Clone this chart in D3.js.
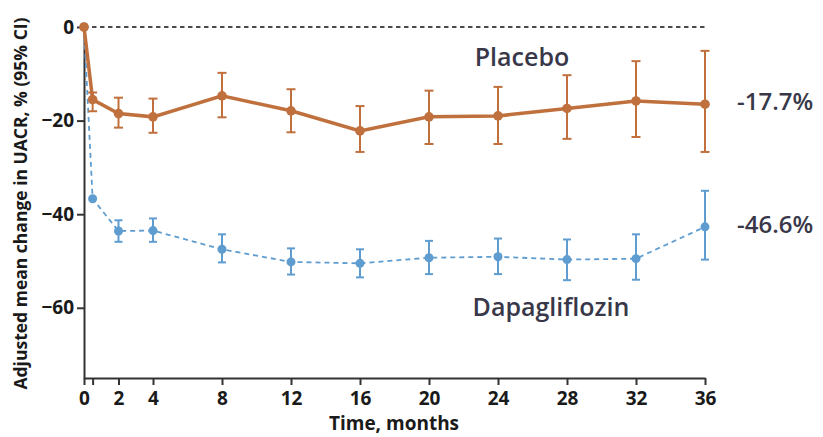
<!DOCTYPE html>
<html>
<head>
<meta charset="utf-8">
<script src="https://cdn.jsdelivr.net/npm/d3@7"></script>
<style>
  html, body { margin: 0; padding: 0; background: #fff; }
  svg { display: block; font-family: "Open Sans", "Noto Sans", sans-serif; }
</style>
</head>
<body>
<svg id="chart" width="823" height="437"></svg>
<script>
// Time points (months)
const months = [0, 0.5, 2, 4, 8, 12, 16, 20, 24, 28, 32, 36];

// Placebo: adjusted mean change in UACR (%) with 95% CI
const placeboMean = [0, -15.5, -18.5, -19.2, -14.7, -17.9, -22.2, -19.2, -19.0, -17.4, -15.8, -16.5];
const placeboLo   = [null, -18.0, -21.5, -22.6, -19.3, -22.5, -26.7, -25.0, -25.0, -23.9, -23.5, -26.7];
const placeboHi   = [null, -14.0, -15.1, -15.3, -9.8, -13.3, -16.9, -13.6, -12.8, -10.3, -7.3, -5.1];

// Dapagliflozin: adjusted mean change in UACR (%) with 95% CI
const dapaMean = [0, -36.7, -43.6, -43.5, -47.5, -50.2, -50.5, -49.3, -49.1, -49.7, -49.5, -42.7];
const dapaLo   = [null, null, -45.9, -45.9, -50.3, -52.9, -53.5, -52.8, -52.8, -54.1, -54.0, -49.7];
const dapaHi   = [null, null, -41.3, -40.9, -44.3, -47.3, -47.5, -45.7, -45.2, -45.4, -44.3, -35.0];

// Axis ticks
const xTicks = [0, 0.5, 2, 4, 8, 12, 16, 20, 24, 28, 32, 36];
const yTicks = [0, -20, -40, -60];

// End-of-study labels
const seriesNames = ["Placebo", "Dapagliflozin"];
const endLabels = ["-17.7%", "-46.6%"];

const colPlacebo = "#c0703d";
const colDapa = "#5f9dd0";
const colText = "#383849";

const svg = d3.select("#chart");

const x = d3.scaleLinear().domain([0, 36]).range([84, 705]);
const y = d3.scaleLinear().domain([0, -75]).range([27, 378]);

// Axes
const xAxis = svg.append("g")
  .attr("transform", `translate(0,${y(-75)})`)
  .call(d3.axisBottom(x).tickValues(xTicks).tickSize(7).tickSizeOuter(0).tickPadding(4)
    .tickFormat(d => d === 0.5 ? "" : d3.format("d")(d)));

const yAxis = svg.append("g")
  .attr("transform", `translate(${x(0)},0)`)
  .call(d3.axisLeft(y).tickValues(yTicks).tickSize(7).tickSizeOuter(0).tickPadding(3)
    .tickFormat(d3.format("d")));

[xAxis, yAxis].forEach(g => {
  g.attr("font-family", null).attr("font-size", null);
  g.select(".domain").attr("stroke", "#333").attr("stroke-width", 2);
  g.selectAll(".tick line").attr("stroke", "#333").attr("stroke-width", 2);
  g.selectAll(".tick text").attr("fill", "#1a1a1a")
    .style("font-size", "19px").style("font-weight", 700);
});
xAxis.selectAll(".tick text").attr("dy", "0.85em");

// Reference line at zero
svg.append("line")
  .attr("x1", x(0)).attr("x2", x(36))
  .attr("y1", y(0)).attr("y2", y(0))
  .attr("stroke", "#111").attr("stroke-width", 1.5)
  .attr("stroke-dasharray", "4.5,3.5");

// Axis titles
svg.append("text")
  .attr("transform", `translate(27,${(10 + 397) / 2}) rotate(-90)`)
  .attr("text-anchor", "middle")
  .attr("fill", "#1a1a1a")
  .style("font-size", "17.5px").style("font-weight", 700)
  .text("Adjusted mean change in UACR, % (95% CI)");

svg.append("text")
  .attr("x", 394).attr("y", 430)
  .attr("text-anchor", "middle")
  .attr("fill", "#1a1a1a")
  .style("font-size", "19px").style("font-weight", 700)
  .text("Time, months");

function drawSeries(mean, lo, hi, color, opts) {
  const g = svg.append("g");
  const pts = months.map((m, i) => ({ m, v: mean[i], lo: lo[i], hi: hi[i] }));
  const withCI = pts.filter(d => d.lo !== null && d.hi !== null);

  // error bars
  g.selectAll("line.ci").data(withCI).join("line")
    .attr("class", "ci")
    .attr("x1", d => x(d.m)).attr("x2", d => x(d.m))
    .attr("y1", d => y(d.lo)).attr("y2", d => y(d.hi))
    .attr("stroke", color).attr("stroke-width", opts.ciWidth);
  ["lo", "hi"].forEach(k => {
    g.selectAll("line.cap-" + k).data(withCI).join("line")
      .attr("class", "cap-" + k)
      .attr("x1", d => x(d.m) - opts.cap).attr("x2", d => x(d.m) + opts.cap)
      .attr("y1", d => y(d[k])).attr("y2", d => y(d[k]))
      .attr("stroke", color).attr("stroke-width", opts.ciWidth);
  });

  // connecting line
  g.append("path").datum(pts)
    .attr("fill", "none")
    .attr("stroke", color)
    .attr("stroke-width", opts.lineWidth)
    .attr("stroke-dasharray", opts.dash || null)
    .attr("d", d3.line().x(d => x(d.m)).y(d => y(d.v)));

  // points
  g.selectAll("circle").data(pts).join("circle")
    .attr("cx", d => x(d.m)).attr("cy", d => y(d.v))
    .attr("r", opts.r).attr("fill", color);
}

drawSeries(dapaMean, dapaLo, dapaHi, colDapa, { ciWidth: 2, cap: 4, lineWidth: 1.8, dash: "5,4", r: 4.5 });
drawSeries(placeboMean, placeboLo, placeboHi, colPlacebo, { ciWidth: 2, cap: 4.5, lineWidth: 3.5, r: 4.8 });

// Series labels
svg.append("text")
  .attr("x", 522).attr("y", 66).attr("text-anchor", "middle")
  .attr("fill", colText).style("font-size", "25px").style("font-weight", 600)
  .text(seriesNames[0]);
svg.append("text")
  .attr("x", 551).attr("y", 316).attr("text-anchor", "middle")
  .attr("fill", colText).style("font-size", "25px").style("font-weight", 600)
  .text(seriesNames[1]);

// End values
svg.append("text")
  .attr("x", 737).attr("y", 110)
  .attr("fill", colText).style("font-size", "24px").style("font-weight", 600)
  .text(endLabels[0]);
svg.append("text")
  .attr("x", 737).attr("y", 233)
  .attr("fill", colText).style("font-size", "24px").style("font-weight", 600)
  .text(endLabels[1]);
</script>
</body>
</html>
